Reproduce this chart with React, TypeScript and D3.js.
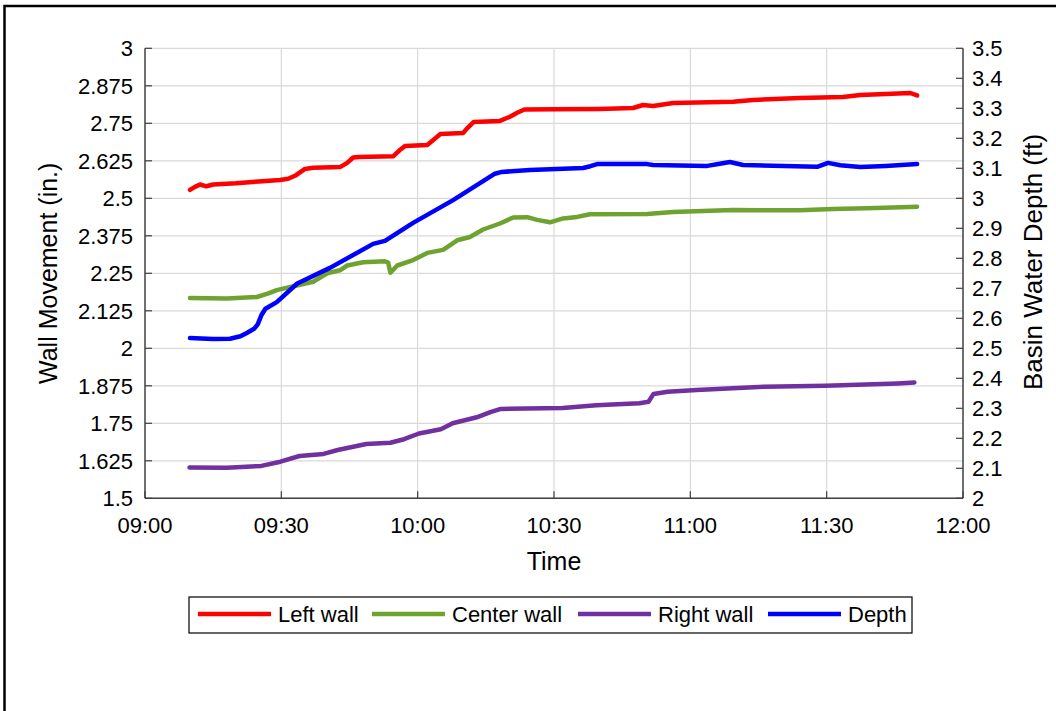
import React from 'react';
import * as d3 from 'd3';

const W = 1056;
const H = 711;
const PLOT = { left: 145, right: 963, top: 48.3, bottom: 498.3 };
const FONT = '"Liberation Sans", Arial, sans-serif';

// [minutes after 09:00, value]
const leftWall: [number, number][] = [
  [9.9, 2.528], [11, 2.538], [12.1, 2.546], [13.5, 2.54], [15, 2.546], [20, 2.55], [25, 2.556],
  [29.7, 2.561], [31.5, 2.565], [33, 2.575], [35.2, 2.598], [37, 2.602], [42.9, 2.604], [44.5, 2.618],
  [45.8, 2.636], [47, 2.638], [54.6, 2.64], [56, 2.66], [57.2, 2.674], [62.1, 2.678], [63.5, 2.695],
  [65, 2.714], [70, 2.718], [71, 2.735], [72.3, 2.754], [78.1, 2.758], [80.3, 2.772], [82, 2.786],
  [83.5, 2.796], [90, 2.797], [100, 2.798], [107.4, 2.801], [109.6, 2.811], [111.8, 2.808],
  [116.2, 2.818], [129.4, 2.822], [133.8, 2.828], [144.1, 2.834], [153.6, 2.838], [157.4, 2.844],
  [163, 2.848], [168.4, 2.851], [169.9, 2.843],
];

const centerWall: [number, number][] = [
  [9.9, 2.168], [18, 2.166], [24.6, 2.171], [27, 2.182], [29, 2.194], [34.1, 2.212], [37, 2.222],
  [40.1, 2.25], [42.9, 2.26], [44.5, 2.276], [48, 2.287], [52.8, 2.29], [53.5, 2.286], [54, 2.252],
  [55.5, 2.276], [59, 2.294], [62.1, 2.318], [65.6, 2.328], [68.7, 2.36], [71.5, 2.371], [74.4, 2.396],
  [78.1, 2.416], [81, 2.436], [84.1, 2.437], [86.3, 2.428], [89.1, 2.42], [92, 2.433], [95.1, 2.438],
  [97.9, 2.447], [110.5, 2.448], [116.2, 2.454], [129.4, 2.461], [144.1, 2.46], [151.4, 2.464],
  [158.9, 2.467], [169.9, 2.472],
];

const rightWall: [number, number][] = [
  [9.8, 1.603], [18, 1.602], [25.6, 1.608], [29.8, 1.622], [34, 1.641], [39.3, 1.648], [42.4, 1.661],
  [48.7, 1.681], [54, 1.685], [57, 1.697], [60.3, 1.716], [65.1, 1.73], [67.7, 1.75], [73, 1.77],
  [76, 1.787], [78.3, 1.798], [91.9, 1.801], [99.3, 1.81], [108.8, 1.817], [110.8, 1.822],
  [111.9, 1.848], [115, 1.855], [121.4, 1.861], [136.2, 1.872], [149.8, 1.875], [165.6, 1.883],
  [169.3, 1.886],
];

// basin water depth, ft (right axis)
const depth: [number, number][] = [
  [9.9, 2.534], [15, 2.531], [18.7, 2.532], [21, 2.54], [22.4, 2.551], [24, 2.565], [24.8, 2.58],
  [25.6, 2.61], [26.5, 2.632], [29, 2.654], [33.5, 2.716], [40.7, 2.768], [50.2, 2.848], [52.8, 2.858],
  [59, 2.918], [67.8, 2.994], [77, 3.082], [78.5, 3.088], [84.7, 3.094], [96.4, 3.101], [98, 3.107],
  [99.5, 3.114], [110.5, 3.114], [111.8, 3.111], [123.7, 3.108], [126.5, 3.115], [128.7, 3.121],
  [131.6, 3.111], [147.9, 3.105], [150.3, 3.118], [153, 3.11], [157.4, 3.104], [163, 3.108],
  [169.9, 3.114],
];

const timeTicks = ['09:00', '09:30', '10:00', '10:30', '11:00', '11:30', '12:00'];
const leftTicks = [1.5, 1.625, 1.75, 1.875, 2, 2.125, 2.25, 2.375, 2.5, 2.625, 2.75, 2.875, 3];
const rightTicks = [2, 2.1, 2.2, 2.3, 2.4, 2.5, 2.6, 2.7, 2.8, 2.9, 3, 3.1, 3.2, 3.3, 3.4, 3.5];

const seriesNames = ['Left wall', 'Center wall', 'Right wall', 'Depth'];
const seriesColors = ['#ff0000', '#6fa32f', '#7030a0', '#0000ff'];

const parseTime = d3.timeParse('%H:%M');
const start = parseTime('09:00') as Date;
const toDate = (m: number) => new Date(start.getTime() + m * 60000);

export default function App() {
  const x = d3.scaleTime()
    .domain([start, parseTime('12:00') as Date])
    .range([PLOT.left, PLOT.right]);
  const yL = d3.scaleLinear().domain([1.5, 3]).range([PLOT.bottom, PLOT.top]);
  const yR = d3.scaleLinear().domain([2, 3.5]).range([PLOT.bottom, PLOT.top]);

  const lineL = d3.line<[number, number]>().x(d => x(toDate(d[0]))).y(d => yL(d[1]));
  const lineR = d3.line<[number, number]>().x(d => x(toDate(d[0]))).y(d => yR(d[1]));

  const paths = [
    lineL(leftWall), lineL(centerWall), lineL(rightWall), lineR(depth),
  ];

  const tickLen = 7;
  const axisColor = '#404040';
  const gridColor = '#d9d9d9';

  // legend layout
  const legendX = [198, 372, 578, 768];
  const legendY = 614;

  return (
    <svg width={W} height={H} style={{ position: 'absolute', left: 0, top: 0, background: '#fff' }}
      fontFamily={FONT}>
      <rect x={0} y={0} width={W} height={H} fill="#fff" />
      <rect x={4.5} y={6} width={W + 20} height={H + 20} fill="none" stroke="#000" strokeWidth={2.5} />

      {/* grid */}
      {leftTicks.map(t => (
        <line key={'gh' + t} x1={PLOT.left} x2={PLOT.right} y1={yL(t)} y2={yL(t)}
          stroke={gridColor} strokeWidth={1.2} />
      ))}
      {timeTicks.slice(1, -1).map(t => {
        const px = x(parseTime(t) as Date);
        return <line key={'gv' + t} x1={px} x2={px} y1={PLOT.top} y2={PLOT.bottom}
          stroke={gridColor} strokeWidth={1.2} />;
      })}

      {/* axes */}
      <line x1={PLOT.left} x2={PLOT.left} y1={PLOT.top} y2={PLOT.bottom} stroke={axisColor} strokeWidth={1.5} />
      <line x1={PLOT.right} x2={PLOT.right} y1={PLOT.top} y2={PLOT.bottom} stroke={axisColor} strokeWidth={1.5} />
      <line x1={PLOT.left} x2={PLOT.right} y1={PLOT.bottom} y2={PLOT.bottom} stroke={axisColor} strokeWidth={1.5} />

      {leftTicks.map(t => (
        <g key={'lt' + t}>
          <line x1={PLOT.left} x2={PLOT.left + tickLen} y1={yL(t)} y2={yL(t)} stroke={axisColor} strokeWidth={1.2} />
          <text x={PLOT.left - 12} y={yL(t)} dy="0.35em" textAnchor="end" fontSize={22} fill="#000">
            {String(t)}
          </text>
        </g>
      ))}
      {rightTicks.map(t => (
        <g key={'rt' + t}>
          <line x1={PLOT.right - tickLen} x2={PLOT.right} y1={yR(t)} y2={yR(t)} stroke={axisColor} strokeWidth={1.2} />
          <text x={PLOT.right + 9} y={yR(t)} dy="0.35em" textAnchor="start" fontSize={22} fill="#000">
            {d3.format('')(t)}
          </text>
        </g>
      ))}
      {timeTicks.map(t => {
        const px = x(parseTime(t) as Date);
        return (
          <g key={'xt' + t}>
            <line x1={px} x2={px} y1={PLOT.bottom - tickLen} y2={PLOT.bottom} stroke={axisColor} strokeWidth={1.2} />
            <text x={px} y={533} textAnchor="middle" fontSize={22} fill="#000">{t}</text>
          </g>
        );
      })}

      {/* axis titles */}
      <text transform={`translate(57,${(PLOT.top + PLOT.bottom) / 2}) rotate(-90)`} textAnchor="middle"
        fontSize={25} fill="#000">Wall Movement (in.)</text>
      <text transform={`translate(1042,262) rotate(-90)`} textAnchor="middle"
        fontSize={26} fill="#000">Basin Water Depth (ft)</text>
      <text x={(PLOT.left + PLOT.right) / 2} y={570} textAnchor="middle" fontSize={25} fill="#000">Time</text>

      {/* series */}
      {paths.map((d, i) => (
        <path key={seriesNames[i]} d={d || ''} fill="none" stroke={seriesColors[i]} strokeWidth={4.5}
          strokeLinejoin="round" strokeLinecap="round" />
      ))}

      {/* legend */}
      <rect x={189} y={597} width={723} height={36} fill="#fff" stroke="#000" strokeWidth={1.2} />
      {seriesNames.map((name, i) => (
        <g key={'lg' + name}>
          <line x1={legendX[i]} x2={legendX[i] + 73} y1={legendY} y2={legendY} stroke={seriesColors[i]} strokeWidth={4.5} />
          <text x={legendX[i] + 80} y={legendY} dy="0.35em" fontSize={22} fill="#000">{name}</text>
        </g>
      ))}
    </svg>
  );
}
